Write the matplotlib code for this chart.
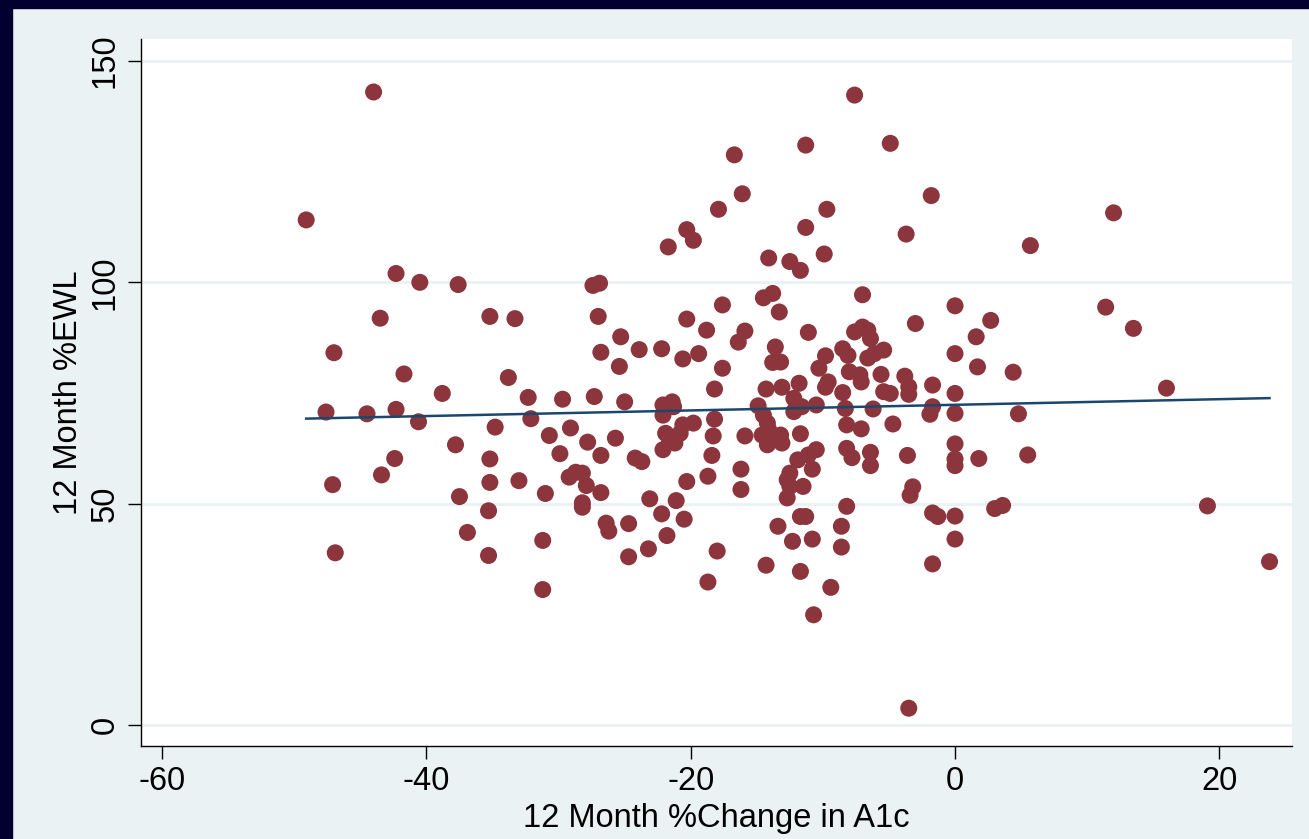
import numpy as np
import matplotlib
matplotlib.use("Agg")
import matplotlib.pyplot as plt

# 12-month % change in A1c vs 12-month % excess weight loss
a1c_change = [
    -44.0, -49.1, -42.3, -40.5, -37.6, -43.5, -35.2, -33.3, -47.0, -41.7,
    -33.8, -38.8, -32.3, -29.7, -47.6, -44.5, -42.3, -40.6, -34.8, -32.1,
    -29.1, -30.7, -37.8, -35.2, -29.9, -42.4, -43.4, -47.1, -35.2, -33.0,
    -29.2, -28.7, -31.0, -37.5, -35.3, -36.9, -31.2, -46.9, -35.3, -31.2,
    -28.2, -27.9, -28.2, -28.2, -27.3, -25.0, -22.1, -21.4, -21.3, -22.1,
    -18.2, -18.2, -19.8, -20.6, -21.9, -21.6, -21.2, -20.8, -22.1, -18.3,
    -18.4, -18.7, -20.3, -23.1, -21.1, -22.2, -20.5, -21.8, -23.2, -24.7,
    -24.7, -26.4, -26.2, -18.0, -18.7, -27.8, -25.7, -26.8, -26.8, -24.2,
    -23.7, -15.9, -16.2, -16.2, -14.3, -13.1, -11.8, -9.8, -8.5, -14.9,
    -14.5, -14.2, -14.6, -14.2, -13.7, -13.2, -13.1, -14.1, -12.2, -12.0,
    -11.6, -10.5, -12.2, -8.3, -8.2, -8.2, -7.8, -11.7, -10.5, -11.1,
    -11.9, -10.8, -12.5, -12.7, -12.5, -11.5, -12.7, -8.2, -11.7, -11.3,
    -13.4, -8.6, -12.3, -10.8, -8.6, -14.3, -11.7, -9.4, -10.7, -7.6,
    -11.3, -16.7, -16.1, -17.9, -9.7, -20.3, -19.8, -11.3, -21.7, -14.1,
    -12.5, -11.7, -9.9, -27.4, -26.9, -27.0, -25.3, -26.8, -23.9, -22.2,
    -25.4, -20.3, -18.8, -17.6, -20.6, -19.4, -17.6, -15.9, -16.4, -14.5,
    -13.8, -13.3, -11.1, -13.6, -13.8, -13.2, -10.3, -9.8, -9.6, -8.5,
    -8.1, -8.0, -7.6, -7.0, -4.9, -1.8, -3.7, 5.7, 12.0, 0.0,
    11.4, 13.5, -3.0, 2.7, 1.6, 0.0, 1.7, 4.4, -7.0, -6.6,
    -6.4, -5.4, -6.6, -6.1, -7.2, -7.1, -5.6, -3.8, -3.5, -1.7,
    0.0, -5.4, -4.9, -3.5, -6.2, -1.7, -1.9, 0.0, 4.8, -7.1,
    -4.7, -6.4, -6.4, -3.6, 0.0, 0.0, 0.0, 1.8, 5.5, -3.2,
    -3.4, -1.7, -1.3, 0.0, 3.0, 3.6, 0.0, -1.7, -3.5, 16.0,
    19.1, 23.8,
]
ewl = [
    143.0, 114.1, 102.0, 100.0, 99.5, 91.9, 92.3, 91.8, 84.1, 79.3,
    78.5, 74.9, 74.0, 73.6, 70.7, 70.3, 71.3, 68.5, 67.3, 69.2,
    67.1, 65.4, 63.3, 60.1, 61.3, 60.2, 56.5, 54.3, 54.8, 55.2,
    56.0, 57.1, 52.3, 51.6, 48.4, 43.5, 41.7, 38.9, 38.3, 30.6,
    56.9, 54.1, 50.2, 49.2, 74.2, 73.0, 72.3, 73.0, 71.9, 70.0,
    75.9, 69.1, 68.2, 67.8, 65.9, 64.0, 63.7, 65.9, 62.2, 65.3,
    60.9, 56.2, 55.0, 51.1, 50.7, 47.7, 46.5, 42.8, 39.8, 38.0,
    45.5, 45.6, 43.8, 39.3, 32.3, 63.9, 64.8, 60.9, 52.5, 60.3,
    59.5, 65.3, 57.8, 53.2, 75.9, 76.3, 77.2, 76.3, 75.1, 72.1,
    70.0, 68.2, 65.5, 63.3, 65.2, 65.5, 63.7, 66.7, 73.8, 71.9,
    71.9, 72.3, 70.8, 71.5, 67.8, 62.5, 60.4, 65.8, 62.2, 61.0,
    59.9, 57.8, 56.9, 55.4, 53.9, 53.9, 51.3, 49.4, 47.1, 47.1,
    44.9, 44.9, 41.5, 42.0, 40.2, 36.1, 34.7, 31.1, 24.9, 142.3,
    131.0, 128.8, 120.0, 116.5, 116.5, 111.9, 109.5, 112.4, 108.0, 105.5,
    104.7, 102.7, 106.4, 99.3, 99.8, 92.3, 87.7, 84.2, 84.8, 85.0,
    81.0, 91.7, 89.2, 94.9, 82.7, 83.9, 80.6, 89.0, 86.5, 96.5,
    97.5, 93.3, 88.7, 85.4, 81.9, 82.0, 80.6, 83.4, 77.5, 85.0,
    83.5, 79.8, 88.8, 97.2, 131.4, 119.6, 110.9, 108.3, 115.7, 94.7,
    94.4, 89.6, 90.7, 91.4, 87.7, 83.9, 80.9, 79.7, 89.9, 89.2,
    87.3, 84.7, 82.9, 83.9, 79.1, 77.5, 79.2, 78.8, 76.4, 76.8,
    74.9, 75.3, 74.9, 74.7, 71.4, 71.9, 70.2, 70.4, 70.3, 66.9,
    68.0, 61.6, 58.6, 60.9, 63.5, 60.1, 58.6, 60.2, 61.0, 53.8,
    51.9, 47.9, 47.1, 47.2, 48.9, 49.6, 42.0, 36.4, 3.8, 76.1,
    49.5, 36.9,
]

x_ticks = [-60, -40, -20, 0, 20]
y_ticks = [0, 50, 100, 150]

x = np.array(a1c_change)
y = np.array(ewl)

# ordinary least squares fit across the observed range
slope, intercept = np.polyfit(x, y, 1)
xfit = np.array([x.min(), x.max()])
yfit = intercept + slope * xfit

outer_bg = "#EAF2F3"
marker_col = "#8C353C"
line_col = "#1A476F"

plt.rcParams["font.family"] = ["Liberation Sans", "DejaVu Sans"]
plt.rcParams["axes.unicode_minus"] = False

fig = plt.figure(figsize=(13.09, 8.39), dpi=100)
fig.patch.set_facecolor(outer_bg)
# dark frame strips along the top and left edges
fig.add_artist(plt.Rectangle((0, 1 - 8 / 839), 1, 8 / 839, transform=fig.transFigure,
                             color="#02002E", zorder=0))
fig.add_artist(plt.Rectangle((0, 0), 12 / 1309, 1, transform=fig.transFigure,
                             color="#02002E", zorder=0))

ax = fig.add_axes([141 / 1309, 1 - 746 / 839, (1292 - 141) / 1309, (746 - 39) / 839])
ax.set_facecolor("white")

ax.scatter(x, y, s=150, color=marker_col, edgecolors="none", zorder=3)
ax.plot(xfit, yfit, color=line_col, lw=1.8, zorder=4)

ax.set_xlim(-61.6, 25.5)
ax.set_ylim(-4.74, 154.97)
ax.set_xticks(x_ticks)
ax.set_yticks(y_ticks)
ax.set_yticklabels([str(v) for v in y_ticks], rotation=90, va="center")
ax.tick_params(axis="both", direction="out", length=9.5, width=1, color="black",
               labelsize=23.5, pad=5)

ax.grid(axis="y", color=outer_bg, lw=2.2, zorder=0)
ax.set_axisbelow(True)

for side in ("top", "right"):
    ax.spines[side].set_visible(False)
for side in ("left", "bottom"):
    ax.spines[side].set_linewidth(1.0)
    ax.spines[side].set_color("black")

ax.set_xlabel("12 Month %Change in A1c", fontsize=23.5)
ax.xaxis.label.set_va("center")
ax.xaxis.set_label_coords(0.5, -0.102)
ax.set_ylabel("12 Month %EWL", fontsize=23.5)
ax.yaxis.label.set_va("center")
ax.yaxis.set_label_coords(-0.0634, 0.5)

fig.savefig("out.png", dpi=100, facecolor=fig.get_facecolor())
